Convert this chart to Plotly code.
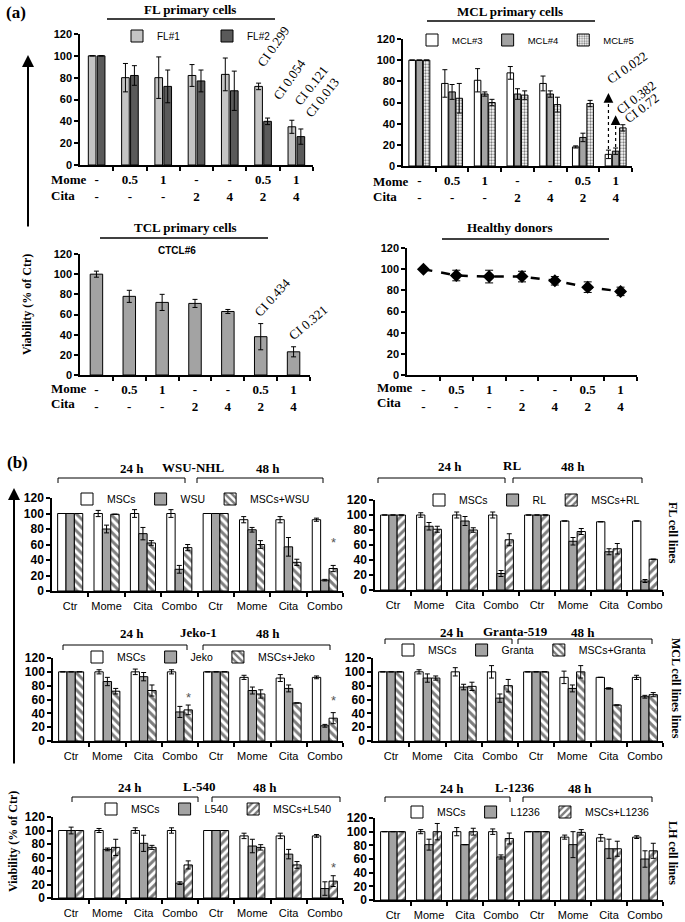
import plotly.graph_objects as go

W, H = 685, 922
SERIF = "Liberation Serif, DejaVu Serif, serif"
SANS = "Liberation Sans, Arial, sans-serif"

# ---------------- Panel (a) data ----------------
a_mome = ["-", "0.5", "1", "-", "-", "0.5", "1"]
a_cita = ["-", "-", "-", "2", "4", "2", "4"]

fl1 = [100, 80, 80, 82, 83, 72, 35]
fl1_err = [0, 13, 19, 10, 15, 3, 6]
fl2 = [100, 82, 72, 77, 68, 40, 26]
fl2_err = [0, 9, 15, 10, 18, 3, 7]

mcl3 = [100, 78, 81, 88, 78, 18, 11]
mcl3_err = [0, 13, 11, 6, 7, 1, 4]
mcl4 = [100, 70, 68, 68, 68, 27, 14]
mcl4_err = [0, 7, 2, 5, 3, 4, 3]
mcl5 = [100, 64, 60, 67, 58, 59, 36]
mcl5_err = [0, 14, 3, 4, 7, 3, 3]
mcl_arrow_to = [69, 48]

ctcl6 = [100, 78, 72, 71, 63, 38, 23]
ctcl6_err = [3, 6, 8, 4, 2, 13, 5]

healthy = [100, 94, 93, 93, 89, 83, 79]
healthy_err = [1, 5, 6, 5, 4, 5, 4]

# ---------------- Panel (b) data ----------------
b_cats = ["Ctr", "Mome", "Cita", "Combo", "Ctr", "Mome", "Cita", "Combo"]

wsu_mscs = [100, 100, 100, 100, 100, 92, 92, 92]
wsu_mscs_err = [0, 4, 5, 5, 0, 4, 4, 2]
wsu_cells = [100, 80, 74, 28, 100, 79, 57, 14]
wsu_cells_err = [0, 5, 8, 5, 0, 3, 12, 1]
wsu_co = [100, 99, 62, 56, 100, 60, 37, 29]
wsu_co_err = [0, 0, 3, 4, 0, 5, 4, 4]
wsu_star = [None, None, None, None, None, None, None, 62]

rl_mscs = [100, 100, 100, 100, 100, 92, 91, 92]
rl_mscs_err = [0, 3, 4, 4, 0, 0, 0, 0]
rl_cells = [100, 85, 92, 22, 100, 65, 51, 12]
rl_cells_err = [0, 5, 6, 4, 0, 5, 4, 2]
rl_co = [100, 81, 80, 67, 100, 78, 55, 41]
rl_co_err = [0, 4, 3, 8, 0, 4, 7, 0]
rl_star = [None] * 8

jeko_mscs = [100, 100, 100, 100, 100, 92, 91, 92]
jeko_mscs_err = [0, 3, 4, 3, 0, 3, 5, 2]
jeko_cells = [100, 86, 93, 42, 100, 73, 76, 22]
jeko_cells_err = [0, 6, 6, 8, 0, 5, 5, 2]
jeko_co = [100, 72, 73, 45, 100, 68, 55, 33]
jeko_co_err = [0, 4, 8, 7, 0, 6, 0, 8]
jeko_star = [None, None, None, 63, None, None, None, 58]

granta_mscs = [100, 100, 100, 100, 100, 92, 92, 92]
granta_mscs_err = [0, 3, 6, 9, 0, 9, 0, 3]
granta_cells = [100, 91, 78, 62, 100, 76, 76, 64]
granta_cells_err = [0, 6, 4, 6, 0, 5, 1, 2]
granta_co = [100, 91, 79, 80, 100, 100, 52, 67]
granta_co_err = [0, 3, 6, 9, 0, 9, 0, 3]
granta_star = [None] * 8

l540_mscs = [100, 100, 100, 100, 100, 92, 92, 92]
l540_mscs_err = [0, 3, 4, 4, 0, 4, 4, 2]
l540_cells = [100, 72, 81, 22, 100, 77, 65, 14]
l540_cells_err = [5, 2, 12, 2, 0, 10, 7, 10]
l540_co = [100, 75, 75, 49, 100, 75, 49, 25]
l540_co_err = [0, 12, 3, 6, 0, 4, 5, 8]
l540_star = [None, None, None, None, None, None, None, 45]

l1236_mscs = [100, 100, 100, 100, 100, 92, 91, 92]
l1236_mscs_err = [0, 3, 6, 4, 0, 3, 5, 2]
l1236_cells = [100, 81, 81, 63, 100, 81, 75, 60]
l1236_cells_err = [0, 8, 0, 3, 0, 19, 14, 12]
l1236_co = [100, 100, 100, 90, 100, 99, 75, 72]
l1236_co_err = [0, 12, 5, 8, 0, 4, 11, 11]
l1236_star = [None] * 8


def PX(x):
    return x / W


def PY(y):
    return 1 - y / H


fig = go.Figure()
lay = {}
annots = []
shapes = []


def make_axes(n, x0, x1, ytop, ybot, ticktext, tickfont, standoff, ytick_size):
    ncat = len(ticktext)
    s = "" if n == 1 else str(n)
    lay["xaxis" + s] = dict(
        domain=[PX(x0), PX(x1)], anchor="y" + s, range=[-0.5, ncat - 0.5],
        tickmode="array", tickvals=list(range(ncat)), ticktext=ticktext,
        ticks="", showline=True, linecolor="black", linewidth=1.5,
        showgrid=False, zeroline=False, tickfont=tickfont,
        ticklabelstandoff=standoff, fixedrange=True,
        minor=dict(tickmode="array",
                   tickvals=[k + 0.5 for k in range(ncat)],
                   ticks="outside", ticklen=4, tickcolor="black",
                   tickwidth=1.5, showgrid=False),
    )
    lay["yaxis" + s] = dict(
        domain=[PY(ybot), PY(ytop)], anchor="x" + s, range=[0, 120],
        tickmode="linear", tick0=0, dtick=20, ticks="outside", ticklen=4,
        tickwidth=1.5, tickcolor="black", showline=True, linecolor="black",
        linewidth=1.5, showgrid=False, zeroline=False, fixedrange=True,
        tickfont=dict(family=SANS, size=ytick_size, color="black", weight="bold"),
    )
    return "x" + s, "y" + s


def offsets(n, w, g):
    total = n * w + (n - 1) * g
    return [-total / 2 + i * (w + g) for i in range(n)]


def add_bars(xa, ya, series, w, g, legend):
    offs = offsets(len(series), w, g)
    for (name, ys, errs, marker), off in zip(series, offs):
        fig.add_trace(go.Bar(
            x=list(range(len(ys))), y=ys, xaxis=xa, yaxis=ya, width=w,
            offset=off, name=name, legend=legend or "legend",
            showlegend=legend is not None, marker=marker,
            error_y=dict(type="data", array=errs, color="black",
                         thickness=1, width=2.5),
            hoverinfo="skip",
        ))
    return offs


def mk_fill(color):
    return dict(color=color, line=dict(color="black", width=1))


def mk_pattern(shape, size=6, solidity=0.5):
    return dict(color="white", line=dict(color="black", width=1),
                pattern=dict(shape=shape, fgcolor="black", bgcolor="white",
                             size=size, solidity=solidity, fillmode="overlay"))


def text(x, y, t, size=12, family=SERIF, bold=True, angle=0, xanchor="center"):
    annots.append(dict(x=PX(x), y=PY(y), xref="paper", yref="paper", text=t,
                       showarrow=False, textangle=angle, xanchor=xanchor,
                       yanchor="middle",
                       font=dict(family=family, size=size, color="black",
                                 weight="bold" if bold else "normal")))


def hline(x0, x1, y, width=1.5):
    shapes.append(dict(type="line", xref="paper", yref="paper", x0=PX(x0),
                       x1=PX(x1), y0=PY(y), y1=PY(y),
                       line=dict(color="black", width=width)))


def bracket(x0, x1, y, drop=5):
    path = "M {a},{b} L {a},{c} L {d},{c} L {d},{b}".format(
        a=PX(x0), b=PY(y + drop), c=PY(y), d=PX(x1))
    shapes.append(dict(type="path", xref="paper", yref="paper", path=path,
                       line=dict(color="black", width=1)))


def legend_cfg(box_x, y, size, entrywidth=None):
    d = dict(x=PX(box_x - 28), y=PY(y), xanchor="left", yanchor="middle",
             orientation="h", bgcolor="rgba(0,0,0,0)", borderwidth=0,
             font=dict(family=SANS, size=size, color="black"),
             itemwidth=30, tracegroupgap=0, traceorder="normal",
             itemclick=False, itemdoubleclick=False)
    if entrywidth:
        d["entrywidth"] = entrywidth
        d["entrywidthmode"] = "pixels"
    return d


a_ticktext = [m + "<br>" + c for m, c in zip(a_mome, a_cita)]
a_tickfont = dict(family=SERIF, size=13, color="black", weight="bold")
b_tickfont = dict(family=SANS, size=11, color="black")

GRAY = "#a3a3a3"

# ---------- (a) FL ----------
xa, ya = make_axes(1, 80, 313, 34, 165, a_ticktext, a_tickfont, 2, 11)
add_bars(xa, ya, [
    ("FL#1", fl1, fl1_err, mk_fill("#c4c4c4")),
    ("FL#2", fl2, fl2_err, mk_fill("#5a5a5a")),
], 0.23, 0.04, "legend")
lay["legend"] = legend_cfg(145, 36, 10, 45)

# ---------- (a) MCL ----------
xa2, ya2 = make_axes(2, 403, 632, 39, 166, a_ticktext, a_tickfont, 2, 11)
mcl_offs = add_bars(xa2, ya2, [
    ("MCL#3", mcl3, mcl3_err, mk_fill("white")),
    ("MCL#4", mcl4, mcl4_err, mk_fill(GRAY)),
    ("MCL#5", mcl5, mcl5_err, mk_pattern(".", 3, 0.45)),
], 0.2, 0.02, "legend2")
lay["legend2"] = legend_cfg(440, 40, 9.5)

# dotted arrows in MCL panel (combo 1/4)
w_mcl = 0.2
for k, (ys, es) in enumerate([(mcl3, mcl3_err), (mcl4, mcl4_err)]):
    xc = 6 + mcl_offs[k] + w_mcl / 2
    y0 = ys[6] + es[6] + 1
    shapes.append(dict(type="line", xref=xa2, yref=ya2, x0=xc, x1=xc, y0=y0,
                       y1=mcl_arrow_to[k] - 2,
                       line=dict(color="black", width=1.2, dash="dot")))
    annots.append(dict(x=xc, y=mcl_arrow_to[k], xref=xa2, yref=ya2, text="",
                       showarrow=True, ax=0, ay=6, arrowhead=2, arrowsize=1.3,
                       arrowwidth=1.5, arrowcolor="black"))

# ---------- (a) TCL ----------
xa3, ya3 = make_axes(3, 80, 310, 254, 375, a_ticktext, a_tickfont, 2, 11)
add_bars(xa3, ya3, [("CTCL#6", ctcl6, ctcl6_err, mk_fill(GRAY))], 0.38, 0, None)

# ---------- (a) Healthy donors ----------
xa4, ya4 = make_axes(4, 407, 637, 248, 375, a_ticktext, a_tickfont, 2, 11)
fig.add_trace(go.Scatter(
    x=list(range(len(healthy))), y=healthy, xaxis=xa4, yaxis=ya4,
    mode="lines+markers", showlegend=False, hoverinfo="skip",
    line=dict(color="black", width=2.5, dash="dash"),
    marker=dict(symbol="diamond", size=10, color="black"),
    error_y=dict(type="data", array=healthy_err, color="black", thickness=1,
                 width=4),
))

# ---------- (b) panels ----------
B_W, B_G = 0.23, 0.0
b_panels = [
    # n, x0, x1, ytop, ybot, cell name, data, hatch, legend (first box x, y)
    (5, 52, 343, 498, 591, "WSU",
     (wsu_mscs, wsu_mscs_err, wsu_cells, wsu_cells_err, wsu_co, wsu_co_err, wsu_star),
     "\\", (95, 499)),
    (6, 375, 663, 500, 590, "RL",
     (rl_mscs, rl_mscs_err, rl_cells, rl_cells_err, rl_co, rl_co_err, rl_star),
     "/", (447, 500)),
    (7, 53, 343, 658, 741, "Jeko",
     (jeko_mscs, jeko_mscs_err, jeko_cells, jeko_cells_err, jeko_co, jeko_co_err, jeko_star),
     "\\", (105, 657)),
    (8, 373, 663, 658, 741, "Granta",
     (granta_mscs, granta_mscs_err, granta_cells, granta_cells_err, granta_co, granta_co_err, granta_star),
     "\\", (416, 650)),
    (9, 53, 343, 817, 898, "L540",
     (l540_mscs, l540_mscs_err, l540_cells, l540_cells_err, l540_co, l540_co_err, l540_star),
     "/", (119, 809)),
    (10, 375, 663, 818, 900, "L1236",
     (l1236_mscs, l1236_mscs_err, l1236_cells, l1236_cells_err, l1236_co, l1236_co_err, l1236_star),
     "/", (425, 812)),
]

for n, x0, x1, ytop, ybot, cname, d, hatch, lpos in b_panels:
    m, me, c, ce, co, coe, star = d
    xa_b, ya_b = make_axes(n, x0, x1, ytop, ybot, b_cats, b_tickfont, 4, 12)
    lg = "legend%d" % n
    offs = add_bars(xa_b, ya_b, [
        ("MSCs", m, me, mk_fill("white")),
        (cname, c, ce, mk_fill(GRAY)),
        ("MSCs+" + cname, co, coe, mk_pattern(hatch, 6, 0.5)),
    ], B_W, B_G, lg)
    lay[lg] = legend_cfg(lpos[0], lpos[1], 10.5)
    for i, s in enumerate(star):
        if s is not None:
            annots.append(dict(x=i + offs[2] + B_W / 2, y=s, xref=xa_b,
                               yref=ya_b, text="*", showarrow=False,
                               font=dict(family=SANS, size=13, color="#555555")))

# ---------------- Decorations / texts ----------------
text(16, 13, "(a)", 17)
text(17, 463, "(b)", 17)

text(190, 9, "FL primary cells", 13)
hline(107, 275, 19)
text(510, 12, "MCL primary cells", 13)
hline(427, 595, 21)
text(185, 227, "TCL primary cells", 13)
hline(100, 268, 238)
text(510, 227, "Healthy donors", 13)
hline(442, 609, 239)
text(177, 250, "CTCL#6", 10, SANS)

# Mome / Cita row labels
for (xl, y1, y2) in [(49, 179, 195), (371, 181, 196), (49, 388, 403), (375, 387, 402)]:
    text(xl, y1, "Mome", 13, xanchor="left")
    text(xl, y2, "Cita", 13, xanchor="left")

# CI labels
ci_labels = ["CI 0.299", "CI 0.054", "CI 0.121", "CI 0.013",
             "CI 0.022", "CI 0.382", "CI 0.72", "CI 0.434", "CI 0.321"]
ci_pos = [(273, 46, -55), (289, 79, -55), (311, 85, -52), (322, 97, -52),
          (627, 67, -35), (636, 97, -37), (641, 108, -37),
          (272, 297, -48), (308, 322, -40)]
for t, (x, y, a) in zip(ci_labels, ci_pos):
    text(x, y, t, 13, bold=False, angle=a)

# big arrows
annots.append(dict(x=PX(28), y=PY(55), xref="paper", yref="paper", text="",
                   showarrow=True, ax=0, ay=173, arrowhead=2, arrowsize=1.2,
                   arrowwidth=2, arrowcolor="black"))
annots.append(dict(x=PX(14), y=PY(488), xref="paper", yref="paper", text="",
                   showarrow=True, ax=0, ay=277, arrowhead=2, arrowsize=1.2,
                   arrowwidth=2, arrowcolor="black"))
text(27, 305, "Viability (% of Ctr)", 12, angle=-90)
text(13, 842, "Viability (% of Ctr)", 12, angle=-90)

# (b) headers & brackets
b_headers = [
    ("WSU-NHL", (132, 193, 268), 468, 478, (58, 185), (197, 323)),
    ("RL", (450, 512, 573), 466, 478, (378, 505), (513, 642)),
    ("Jeko-1", (132, 198, 268), 633, 645, (63, 187), (203, 330)),
    ("Granta-519", (452, 515, 583), 632, 639, (385, 512), (518, 652)),
    ("L-540", (130, 200, 265), 787, 797, (72, 198), (212, 340)),
    ("L-1236", (452, 515, 580), 788, 797, (385, 510), (523, 652)),
]
for name, (x24, xn, x48), yt, yb, br1, br2 in b_headers:
    text(x24, yt, "24 h", 13)
    text(xn, yt - 1, name, 13)
    text(x48, yt, "48 h", 13)
    bracket(br1[0], br1[1], yb)
    bracket(br2[0], br2[1], yb)

text(673, 533, "FL cell lines", 12, angle=90)
text(676, 688, "MCL cell lines lines", 12, angle=90)
text(673, 853, "LH cell lines", 12, angle=90)

fig.update_layout(
    width=W, height=H, margin=dict(l=0, r=0, t=0, b=0, autoexpand=False),
    paper_bgcolor="white", plot_bgcolor="white", barmode="overlay",
    font=dict(family=SANS, color="black"),
    annotations=annots, shapes=shapes, **lay,
)

fig.write_html(
    "out.html", config={"displayModeBar": False},
    post_script="document.body.style.margin='0px';document.body.style.overflow='hidden';",
)
